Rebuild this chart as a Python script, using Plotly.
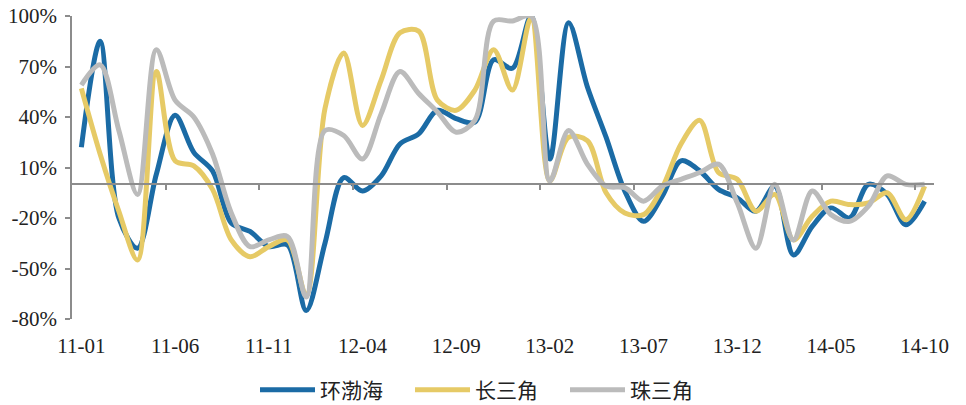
import plotly.graph_objects as go

# Monthly categories 2011-01 .. 2014-10
months = [f"{y % 100:02d}-{m:02d}" for y in range(2011, 2015) for m in range(1, 13)][:46]
tick_labels = months[::5]

series_names = ["环渤海", "长三角", "珠三角"]

bohai = [22, 85, -20, -38, 6, 41, 19, 8, -23, -28, -37, -36, -75, -35, 4, -4, 5, 24,
         30, 44, 39, 37, 74, 69, 100, 15, 96, 58, 28, -4, -22, -7, 14, 8, -3, -8,
         -16, -1, -42, -25, -14, -20, 0, -6, -24, -10]
yangtze = [57, 18, -16, -45, 67, 14, 11, -3, -33, -43, -37, -33, -66, 45, 78, 35, 62, 90,
           91, 50, 44, 56, 80, 56, 99, 2, 28, 26, -5, -17, -18, -2, 24, 38, 7, 3,
           -16, -6, -33, -19, -10, -12, -11, -5, -21, -1]
pearl = [59, 71, 32, -6, 80, 50, 40, 18, -17, -37, -33, -31, -67, 32, 29, 15, 42, 67,
         54, 43, 31, 38, 97, 97, 100, 2, 32, 12, -1, -2, -10, -1, 3, 7, 12, -11,
         -38, 0, -33, -4, -18, -22, -13, 5, 0, 0]

y_ticks = [-80, -50, -20, 10, 40, 70, 100]

colors = ["#1B6BA5", "#E6CA66", "#BBBBBB"]
axis_gray = "#8C8C8C"

x_idx = list(range(len(months)))

fig = go.Figure()
for name, vals, col in zip(series_names, [bohai, yangtze, pearl], colors):
    fig.add_trace(go.Scatter(
        x=x_idx, y=vals, name=name, mode="lines",
        line=dict(color=col, width=5, shape="spline", smoothing=0.9),
    ))

# helper trace so the zero-level category axis is drawn
fig.add_trace(go.Scatter(x=[0], y=[None], xaxis="x2", mode="lines",
                         showlegend=False, hoverinfo="skip"))

num_font = dict(family="Liberation Serif, Times New Roman, serif", size=21, color="#222222")
yr = [-80, 100]
xr = [-0.5, len(months) - 0.5]

fig.update_layout(
    width=966, height=405,
    margin=dict(l=72, r=32, t=16, b=86, autoexpand=False),
    paper_bgcolor="white", plot_bgcolor="white",
    showlegend=True,
    legend=dict(orientation="h", xref="container", yref="container",
                x=255 / 966, xanchor="left", y=0.037, yanchor="middle",
                font=dict(family="Noto Sans CJK SC", size=21, color="#222222"),
                itemwidth=55, entrywidth=85, entrywidthmode="pixels",
                tracegroupgap=0, traceorder="normal"),
    xaxis=dict(range=xr, tickmode="array", tickvals=x_idx[::5], ticktext=tick_labels,
               showline=False, showgrid=False, zeroline=False, ticks="",
               tickfont=num_font, ticklabelstandoff=12, automargin=False),
    xaxis2=dict(range=xr, overlaying="x", anchor="free", position=(0 - yr[0]) / (yr[1] - yr[0]),
                showline=True, linecolor=axis_gray, linewidth=1.5,
                ticks="outside", ticklen=5, tickcolor=axis_gray, tickwidth=1.5,
                tickmode="array", tickvals=[v + 4.5 for v in x_idx[::5]][:-1] + [44.5],
                showticklabels=False, showgrid=False, zeroline=False, automargin=False),
    yaxis=dict(range=yr, tickmode="array", tickvals=y_ticks,
               ticktext=[f"{v}%" for v in y_ticks],
               showline=True, linecolor=axis_gray, linewidth=1.5,
               ticks="outside", ticklen=5, tickcolor=axis_gray, tickwidth=1.5,
               showgrid=False, zeroline=False, tickfont=num_font, ticklabelstandoff=4,
               automargin=False),
)

fig.write_html("out.html")
